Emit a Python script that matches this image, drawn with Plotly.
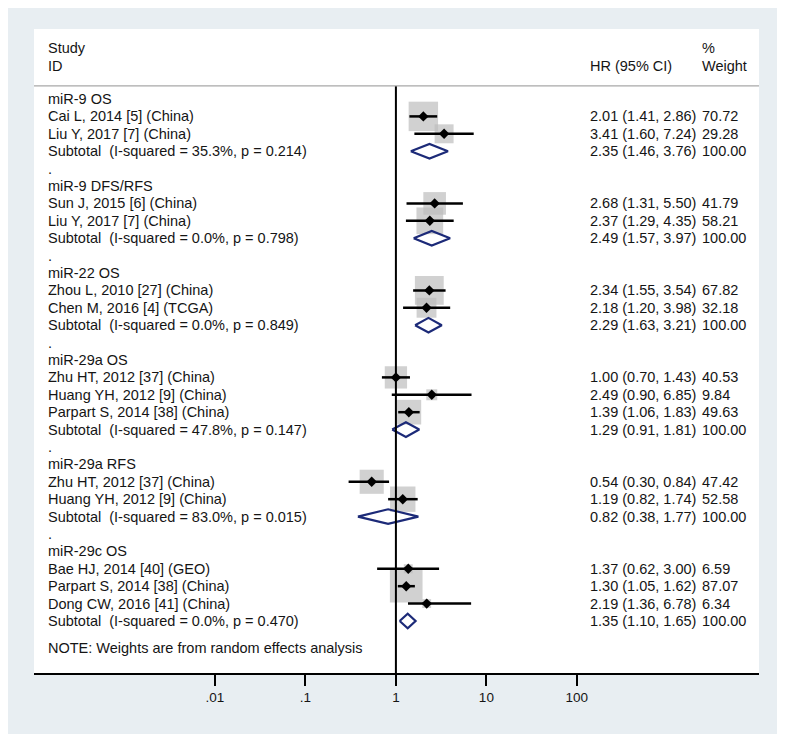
import numpy as np
import plotly.graph_objects as go

# rows of the table, top to bottom (row index = position)
labels = [
    "miR-9 OS", "Cai L, 2014 [5] (China)", "Liu Y, 2017 [7] (China)",
    "Subtotal  (I-squared = 35.3%, p = 0.214)", ".",
    "miR-9 DFS/RFS", "Sun J, 2015 [6] (China)", "Liu Y, 2017 [7] (China)",
    "Subtotal  (I-squared = 0.0%, p = 0.798)", ".",
    "miR-22 OS", "Zhou L, 2010 [27] (China)", "Chen M, 2016 [4] (TCGA)",
    "Subtotal  (I-squared = 0.0%, p = 0.849)", ".",
    "miR-29a OS", "Zhu HT, 2012 [37] (China)", "Huang YH, 2012 [9] (China)",
    "Parpart S, 2014 [38] (China)", "Subtotal  (I-squared = 47.8%, p = 0.147)", ".",
    "miR-29a RFS", "Zhu HT, 2012 [37] (China)", "Huang YH, 2012 [9] (China)",
    "Subtotal  (I-squared = 83.0%, p = 0.015)", ".",
    "miR-29c OS", "Bae HJ, 2014 [40] (GEO)", "Parpart S, 2014 [38] (China)",
    "Dong CW, 2016 [41] (China)", "Subtotal  (I-squared = 0.0%, p = 0.470)",
]

# individual studies
study_rows = [1, 2, 6, 7, 11, 12, 16, 17, 18, 22, 23, 27, 28, 29]
study_hr = [2.01, 3.41, 2.68, 2.37, 2.34, 2.18, 1.00, 2.49, 1.39, 0.54, 1.19, 1.37, 1.30, 2.19]
study_lo = [1.41, 1.60, 1.31, 1.29, 1.55, 1.20, 0.70, 0.90, 1.06, 0.30, 0.82, 0.62, 1.05, 1.36]
study_hi = [2.86, 7.24, 5.50, 4.35, 3.54, 3.98, 1.43, 6.85, 1.83, 0.84, 1.74, 3.00, 1.62, 6.78]
study_w = [70.72, 29.28, 41.79, 58.21, 67.82, 32.18, 40.53, 9.84, 49.63, 47.42, 52.58, 6.59, 87.07, 6.34]

# subtotals
sub_rows = [3, 8, 13, 19, 24, 30]
sub_hr = [2.35, 2.49, 2.29, 1.29, 0.82, 1.35]
sub_lo = [1.46, 1.57, 1.63, 0.91, 0.38, 1.10]
sub_hi = [3.76, 3.97, 3.21, 1.81, 1.77, 1.65]

tick_vals = [0.01, 0.1, 1, 10, 100]
tick_text = [".01", ".1", "1", "10", "100"]

FONT = "Liberation Sans, Arial, sans-serif"
TXT = "#151515"
FS = 14.5

fig = go.Figure()

# weight boxes
fig.add_trace(go.Scatter(
    x=study_hr, y=study_rows, mode="markers",
    marker=dict(symbol="square", size=[3.5 * np.sqrt(w) for w in study_w],
                color="#bdbdbd", line=dict(width=0)),
    hoverinfo="skip", showlegend=False,
))

# confidence intervals
ci_x, ci_y = [], []
for r, lo, hi in zip(study_rows, study_lo, study_hi):
    ci_x += [lo, hi, None]
    ci_y += [r, r, None]
fig.add_trace(go.Scatter(x=ci_x, y=ci_y, mode="lines",
                         line=dict(color="black", width=2.5),
                         hoverinfo="skip", showlegend=False))

# point estimates
fig.add_trace(go.Scatter(
    x=study_hr, y=study_rows, mode="markers",
    marker=dict(symbol="diamond", size=8, color="black"),
    hoverinfo="skip", showlegend=False,
))

# subtotal diamonds
h = 0.42
for r, est, lo, hi in zip(sub_rows, sub_hr, sub_lo, sub_hi):
    fig.add_trace(go.Scatter(
        x=[lo, est, hi, est, lo], y=[r, r - h, r, r + h, r],
        mode="lines", line=dict(color="#1c2a78", width=2.2),
        hoverinfo="skip", showlegend=False,
    ))

# null line
fig.add_shape(type="line", xref="x", yref="y", x0=1, x1=1, y0=-0.75, y1=33,
              line=dict(color="black", width=2))
# header separator
fig.add_shape(type="line", xref="paper", yref="y", x0=0, x1=1, y0=-0.75, y1=-0.75,
              line=dict(color="#a8a8a8", width=1.2))

ann = []
def txt(xp, y, s):
    ann.append(dict(x=xp, y=y, xref="paper", yref="y", text=s, showarrow=False,
                    xanchor="left", yanchor="middle",
                    font=dict(family=FONT, size=FS, color=TXT)))

txt(0.0166, -2.93, "Study")
txt(0.0166, -1.9, "ID")
txt(0.9186, -2.93, "%")
txt(0.7641, -1.9, "HR (95% CI)")
txt(0.9186, -1.9, "Weight")

for i, lab in enumerate(labels):
    txt(0.0166, i, lab)

for r, est, lo, hi, w in zip(study_rows, study_hr, study_lo, study_hi, study_w):
    txt(0.7641, r, f"{est:.2f} ({lo:.2f}, {hi:.2f})")
    txt(0.9186, r, f"{w:.2f}")
for r, est, lo, hi in zip(sub_rows, sub_hr, sub_lo, sub_hi):
    txt(0.7641, r, f"{est:.2f} ({lo:.2f}, {hi:.2f})")
    txt(0.9186, r, "100.00")

txt(0.0166, 31.55, "NOTE: Weights are from random effects analysis")

# page body adds an 8px border, so the figure is shrunk to fit inside it
fig.update_layout(
    width=769, height=726,
    margin=dict(l=26, r=18, t=21, b=61),
    paper_bgcolor="#e8eef2", plot_bgcolor="white",
    annotations=ann,
    xaxis=dict(type="log", range=[-4.0, 4.013], showgrid=False, zeroline=False,
               tickvals=tick_vals, ticktext=tick_text, ticks="outside",
               ticklen=11, tickwidth=2, tickcolor="black",
               showline=True, linecolor="black", linewidth=2,
               tickfont=dict(family=FONT, size=13.5, color=TXT)),
    yaxis=dict(range=[32.99, -4.023], showgrid=False, zeroline=False,
               showticklabels=False, showline=False),
)

fig.write_html("out.html")
